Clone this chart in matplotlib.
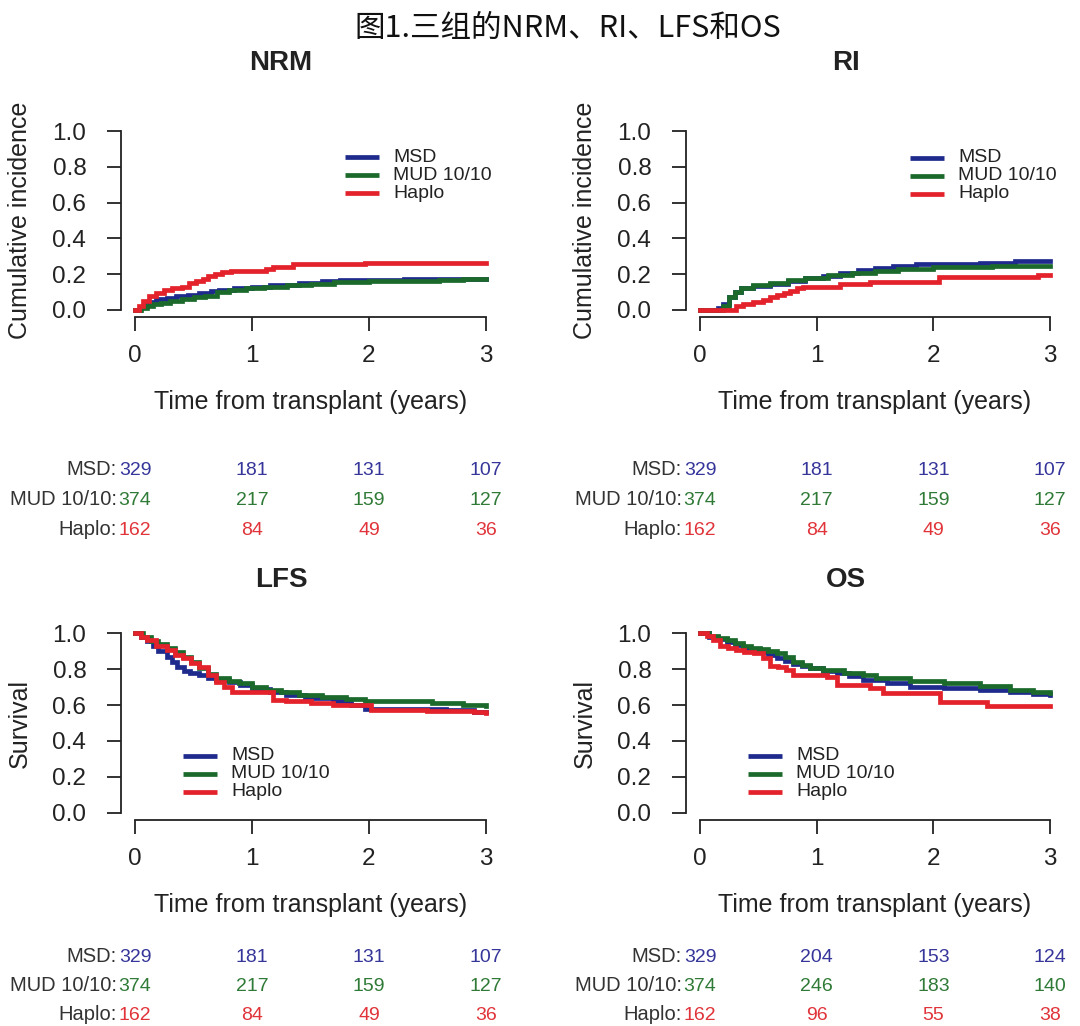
import numpy as np
import matplotlib
matplotlib.use('Agg')
import matplotlib.pyplot as plt

# ---------------------------------------------------------------------------
# data
# ---------------------------------------------------------------------------

groups = ['MSD', 'MUD 10/10', 'Haplo']
panels = ['NRM', 'RI', 'LFS', 'OS']
risk_times = [0, 1, 2, 3]

# NRM - cumulative incidence
nrm_msd_t = [0, 0.04, 0.08, 0.12, 0.18, 0.27, 0.35, 0.45, 0.55, 0.65, 0.72, 0.85, 1.0, 1.15, 1.4, 1.6, 1.75, 2.0, 2.3, 2.6, 3.0]
nrm_msd_v = [0, 0.015, 0.03, 0.045, 0.06, 0.067, 0.075, 0.085, 0.095, 0.105, 0.11, 0.12, 0.13, 0.14, 0.15, 0.16, 0.165, 0.168, 0.17, 0.172, 0.172]
nrm_mud_t = [0, 0.05, 0.1, 0.15, 0.22, 0.3, 0.4, 0.5, 0.6, 0.7, 0.8, 0.95, 1.1, 1.3, 1.5, 1.7, 2.0, 2.3, 2.6, 2.8, 3.0]
nrm_mud_v = [0, 0.01, 0.02, 0.03, 0.04, 0.05, 0.06, 0.07, 0.08, 0.1, 0.11, 0.12, 0.13, 0.14, 0.145, 0.155, 0.16, 0.163, 0.167, 0.172, 0.172]
nrm_hap_t = [0, 0.03, 0.07, 0.12, 0.18, 0.25, 0.32, 0.4, 0.46, 0.52, 0.58, 0.62, 0.68, 0.74, 0.82, 1.12, 1.18, 1.35, 1.97, 3.0]
nrm_hap_v = [0, 0.02, 0.05, 0.08, 0.095, 0.11, 0.12, 0.13, 0.15, 0.16, 0.175, 0.19, 0.2, 0.21, 0.215, 0.23, 0.24, 0.255, 0.262, 0.262]

# RI - cumulative incidence
ri_msd_t = [0, 0.15, 0.2, 0.25, 0.3, 0.35, 0.45, 0.6, 0.75, 0.9, 1.05, 1.2, 1.35, 1.5, 1.65, 1.85, 2.0, 2.4, 2.7, 3.0]
ri_msd_v = [0, 0.01, 0.03, 0.07, 0.1, 0.12, 0.135, 0.145, 0.16, 0.18, 0.19, 0.205, 0.225, 0.235, 0.245, 0.255, 0.258, 0.26, 0.275, 0.275]
ri_mud_t = [0, 0.2, 0.25, 0.3, 0.35, 0.45, 0.6, 0.75, 0.9, 1.1, 1.3, 1.5, 1.7, 2.0, 2.5, 3.0]
ri_mud_v = [0, 0.02, 0.07, 0.1, 0.12, 0.14, 0.15, 0.165, 0.18, 0.195, 0.205, 0.22, 0.23, 0.24, 0.245, 0.245]
ri_hap_t = [0, 0.31, 0.37, 0.45, 0.54, 0.6, 0.66, 0.72, 0.77, 0.83, 0.88, 1.2, 1.46, 2.05, 2.9, 3.0]
ri_hap_v = [0, 0.02, 0.035, 0.045, 0.055, 0.07, 0.085, 0.095, 0.105, 0.12, 0.13, 0.145, 0.155, 0.185, 0.197, 0.197]

# LFS - survival
lfs_msd_t = [0, 0.05, 0.1, 0.15, 0.2, 0.27, 0.32, 0.36, 0.42, 0.47, 0.55, 0.62, 0.69, 0.8, 0.9, 1.0, 1.15, 1.29, 1.45, 1.69, 1.85, 1.97, 2.66, 2.9, 3.0]
lfs_msd_v = [1.0, 0.98, 0.955, 0.93, 0.9, 0.87, 0.84, 0.81, 0.79, 0.78, 0.765, 0.75, 0.74, 0.73, 0.71, 0.69, 0.67, 0.655, 0.64, 0.62, 0.6, 0.58, 0.575, 0.56, 0.56]
lfs_mud_t = [0, 0.07, 0.14, 0.2, 0.27, 0.34, 0.41, 0.48, 0.55, 0.62, 0.69, 0.8, 0.89, 1.0, 1.12, 1.25, 1.4, 1.6, 1.8, 1.97, 2.25, 2.54, 2.8, 3.0]
lfs_mud_v = [1.0, 0.98, 0.955, 0.94, 0.92, 0.895, 0.87, 0.84, 0.805, 0.775, 0.75, 0.735, 0.72, 0.7, 0.685, 0.67, 0.655, 0.645, 0.635, 0.625, 0.62, 0.61, 0.6, 0.595]
lfs_hap_t = [0, 0.05, 0.1, 0.18, 0.27, 0.34, 0.41, 0.48, 0.55, 0.62, 0.69, 0.76, 0.83, 1.12, 1.18, 1.29, 1.5, 1.69, 2.0, 2.02, 2.5, 2.9, 3.0]
lfs_hap_v = [1.0, 0.98, 0.96, 0.93, 0.905, 0.88, 0.86, 0.835, 0.81, 0.77, 0.73, 0.7, 0.675, 0.675, 0.63, 0.62, 0.61, 0.6, 0.6, 0.572, 0.568, 0.56, 0.555]

# OS - survival
os_msd_t = [0, 0.08, 0.15, 0.23, 0.3, 0.37, 0.44, 0.51, 0.58, 0.66, 0.73, 0.8, 0.87, 0.94, 1.05, 1.17, 1.28, 1.4, 1.6, 1.8, 2.09, 2.4, 2.66, 2.85, 3.0]
os_msd_v = [1.0, 0.98, 0.965, 0.95, 0.935, 0.92, 0.905, 0.895, 0.88, 0.86, 0.845, 0.83, 0.815, 0.805, 0.79, 0.78, 0.76, 0.74, 0.72, 0.70, 0.695, 0.685, 0.675, 0.66, 0.655]
os_mud_t = [0, 0.08, 0.15, 0.23, 0.3, 0.37, 0.44, 0.51, 0.58, 0.66, 0.73, 0.8, 0.87, 0.94, 1.05, 1.23, 1.4, 1.51, 1.8, 2.09, 2.4, 2.66, 2.85, 3.0]
os_mud_v = [1.0, 0.985, 0.975, 0.96, 0.945, 0.93, 0.92, 0.91, 0.9, 0.89, 0.865, 0.84, 0.825, 0.805, 0.795, 0.78, 0.765, 0.75, 0.735, 0.72, 0.705, 0.685, 0.675, 0.665]
os_hap_t = [0, 0.06, 0.11, 0.17, 0.24, 0.31, 0.38, 0.46, 0.54, 0.6, 0.67, 0.74, 0.8, 1.09, 1.17, 1.46, 1.57, 2.0, 2.06, 2.43, 2.46, 3.0]
os_hap_v = [1.0, 0.985, 0.96, 0.93, 0.915, 0.905, 0.895, 0.89, 0.86, 0.82, 0.81, 0.795, 0.765, 0.755, 0.71, 0.695, 0.665, 0.665, 0.615, 0.615, 0.595, 0.595]

# numbers at risk at years 0,1,2,3
risk_msd_nrm = [329, 181, 131, 107]
risk_mud_nrm = [374, 217, 159, 127]
risk_hap_nrm = [162, 84, 49, 36]
risk_msd_os = [329, 204, 153, 124]
risk_mud_os = [374, 246, 183, 140]
risk_hap_os = [162, 96, 55, 38]

# ---------------------------------------------------------------------------
# layout / style
# ---------------------------------------------------------------------------

W, H = 1080, 1026
line_cols = ['#1f2b8c', '#1b6a2c', '#e3222b']
text_cols = ['#35359a', '#2f7a36', '#e0343a']
plt.rcParams['font.family'] = ['Liberation Sans', 'DejaVu Sans']

fig = plt.figure(figsize=(W / 100, H / 100), dpi=100)
fig.patch.set_facecolor('white')

def fx(px):
    return px / W

def fy(py):
    return 1 - py / H

curves = {
    'NRM': [(nrm_msd_t, nrm_msd_v), (nrm_mud_t, nrm_mud_v), (nrm_hap_t, nrm_hap_v)],
    'RI': [(ri_msd_t, ri_msd_v), (ri_mud_t, ri_mud_v), (ri_hap_t, ri_hap_v)],
    'LFS': [(lfs_msd_t, lfs_msd_v), (lfs_mud_t, lfs_mud_v), (lfs_hap_t, lfs_hap_v)],
    'OS': [(os_msd_t, os_msd_v), (os_mud_t, os_mud_v), (os_hap_t, os_hap_v)],
}
risk = {
    'NRM': [risk_msd_nrm, risk_mud_nrm, risk_hap_nrm],
    'RI': [risk_msd_nrm, risk_mud_nrm, risk_hap_nrm],
    'LFS': [risk_msd_nrm, risk_mud_nrm, risk_hap_nrm],
    'OS': [risk_msd_os, risk_mud_os, risk_hap_os],
}
ylabels = {'NRM': 'Cumulative incidence', 'RI': 'Cumulative incidence',
           'LFS': 'Survival', 'OS': 'Survival'}

# pixel geometry of each panel: axes box (left, top, right, bottom)
boxes = {'NRM': (121, 124, 500, 317), 'RI': (686, 124, 1064, 317),
         'LFS': (121, 626, 500, 820), 'OS': (686, 626, 1064, 820)}
title_xy = {'NRM': (281, 63), 'RI': (846, 63), 'LFS': (281, 580), 'OS': (846, 580)}
legend_xy = {'NRM': (345, 157), 'RI': (910, 158), 'LFS': (183, 756), 'OS': (748, 756)}
# first row centre and row spacing of the risk tables
risk_y = {'NRM': (469, 30), 'RI': (469, 30), 'LFS': (956, 29), 'OS': (956, 29)}

fig.text(fx(568), fy(28), '图1.三组的NRM、RI、LFS和OS', ha='center', va='center',
         fontsize=22, family=['Noto Sans CJK SC', 'DejaVu Sans'], color='#111111')

for p in panels:
    l, t, r, b = boxes[p]
    ax = fig.add_axes([fx(l), fy(b), fx(r - l), (b - t) / H])
    for (tt, vv), c in zip(curves[p], line_cols):
        ax.step(tt, vv, where='post', color=c, lw=3.4, solid_joinstyle='miter')

    ax.set_xlim(-0.12, 3.12)
    ax.set_ylim(-0.04, 1.04)
    ax.set_xticks([0, 1, 2, 3])
    ax.set_yticks([0, 0.2, 0.4, 0.6, 0.8, 1.0])
    ax.set_yticklabels(['0.0', '0.2', '0.4', '0.6', '0.8', '1.0'])
    for s in ['top', 'right']:
        ax.spines[s].set_visible(False)
    ax.spines['left'].set_bounds(0, 1)
    ax.spines['bottom'].set_bounds(0, 3)
    for s in ['left', 'bottom']:
        ax.spines[s].set_linewidth(1.3)
        ax.spines[s].set_color('#222222')
    ax.tick_params(axis='both', length=10, width=1.3, color='#222222',
                   labelsize=17.5, labelcolor='#222222')
    ax.tick_params(axis='y', pad=15)
    ax.tick_params(axis='x', pad=10)
    ax.set_xlabel('Time from transplant (years)', fontsize=18, color='#222222', labelpad=17)
    ax.set_ylabel(ylabels[p], fontsize=18, color='#222222', va='center')
    ax.yaxis.set_label_coords(-101 / (r - l), 0.5)

    # title
    fig.text(fx(title_xy[p][0]), fy(title_xy[p][1]), p, ha='center', va='center',
             fontsize=20, fontweight='bold', color='#222222')

    # legend (R style, no frame)
    lx, ly = legend_xy[p]
    for i, g in enumerate(groups):
        yy = fy(ly + 18 * i)
        fig.add_artist(plt.Line2D([fx(lx), fx(lx + 34)], [yy, yy], color=line_cols[i],
                                  lw=3.4, solid_capstyle='butt'))
        fig.text(fx(lx + 48), yy, g, ha='left', va='center', fontsize=14, color='#222222')

    # numbers at risk (text aligned on a common baseline)
    ry, dy = risk_y[p]
    trans = matplotlib.transforms.blended_transform_factory(ax.transData, fig.transFigure)
    for i, g in enumerate(groups):
        yy = fy(ry + dy * i + 6)
        fig.text(fx(l - 4), yy, g + ':', ha='right', va='baseline', fontsize=14.5, color='#333333')
        for x, n in zip(risk_times, risk[p][i]):
            ax.text(x, yy, str(n), transform=trans, ha='center', va='baseline',
                    fontsize=14, color=text_cols[i], clip_on=False)

fig.savefig('out.png', dpi=100, facecolor='white')
